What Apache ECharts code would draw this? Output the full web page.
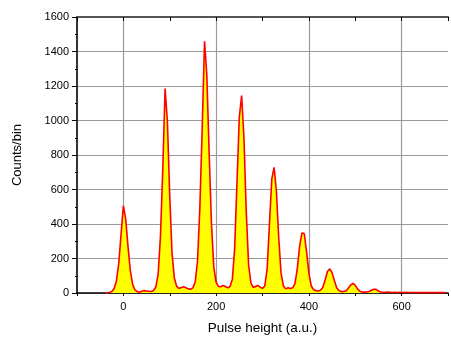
<!DOCTYPE html>
<html>
<head>
<meta charset="utf-8">
<script src="https://cdn.jsdelivr.net/npm/echarts@6/dist/echarts.min.js"></script>
<style>
  html, body { margin: 0; padding: 0; background: #fff; }
  #main { width: 451px; height: 340px; }
</style>
</head>
<body>
<div id="main"></div>
<script>
// pulse height bins (a.u.)
const pulseHeight = [
  -40, -35, -30, -25, -20, -15, -10, -5, 0, 5, 10, 15, 20, 25, 30, 35, 40, 45, 50, 55,
  60, 65, 70, 75, 80, 85, 90, 95, 100, 105, 110, 115, 120, 125, 130, 135, 140, 145, 150, 155,
  160, 165, 170, 175, 180, 185, 190, 195, 200, 205, 210, 215, 220, 225, 230, 235, 240, 245, 250, 255,
  260, 265, 270, 275, 280, 285, 290, 295, 300, 305, 310, 315, 320, 325, 330, 335, 340, 345, 350, 355,
  360, 365, 370, 375, 380, 385, 390, 395, 400, 405, 410, 415, 420, 425, 430, 435, 440, 445, 450, 455,
  460, 465, 470, 475, 480, 485, 490, 495, 500, 505, 510, 515, 520, 525, 530, 535, 540, 545, 550, 555,
  560, 565, 570, 575, 580, 585, 590, 595, 600, 605, 610, 615, 620, 625, 630, 635, 640, 645, 650, 655,
  660, 665, 670, 675, 680, 685, 690, 695
];
// counts per bin
const counts = [
  0, 1, 3, 8, 25, 70, 170, 340, 505, 430, 270, 130, 50, 18, 8, 6, 10, 14, 12, 10,
  9, 14, 35, 110, 330, 720, 1185, 990, 560, 230, 85, 38, 26, 32, 36, 30, 24, 22, 30, 65,
  190, 500, 960, 1460, 1260, 810, 400, 150, 62, 38, 36, 44, 38, 30, 38, 80, 260, 640, 1020, 1145,
  900, 470, 165, 58, 32, 38, 44, 34, 26, 42, 140, 400, 660, 728, 590, 320, 115, 42, 24, 30,
  26, 30, 55, 140, 270, 348, 345, 240, 115, 42, 20, 14, 12, 16, 32, 75, 125, 140, 118, 72,
  30, 13, 8, 9, 12, 28, 46, 56, 44, 24, 10, 6, 5, 6, 9, 16, 22, 21, 11, 6,
  4, 4, 5, 4, 3, 4, 3, 4, 3, 3, 4, 3, 3, 2, 3, 3, 2, 3, 2, 2,
  3, 2, 2, 2, 2, 2, 2, 2
];
const xLabels = [0, 200, 400, 600];

const myChart = echarts.init(document.getElementById('main'));
const font = 'Liberation Sans, Arial, sans-serif';
const seriesData = pulseHeight.map((x, i) => [x, counts[i]]);

const option = {
  animation: false,
  grid: { left: 77, top: 17, width: 381, height: 281 },
  xAxis: [
    {
      type: 'value',
      position: 'bottom',
      min: -100,
      max: 700,
      interval: 100,
      name: 'Pulse height (a.u.)',
      nameLocation: 'middle',
      nameGap: 28,
      nameTextStyle: { color: '#000', fontSize: 13.5, fontFamily: font },
      axisLine: { onZero: false, lineStyle: { color: '#000', width: 1.5 } },
      axisTick: { inside: false, length: 3, lineStyle: { color: '#000' } },
      axisLabel: {
        color: '#000',
        fontSize: 11,
        fontFamily: font,
        margin: 8,
        formatter: (v) => (xLabels.indexOf(v) >= 0 ? String(v) : '')
      },
      splitLine: {
        show: true,
        lineStyle: { color: ['rgba(0,0,0,0)', '#999'], width: 1.2 }
      }
    },
    {
      type: 'value',
      position: 'top',
      min: -100,
      max: 700,
      interval: 100,
      axisLine: { onZero: false, lineStyle: { color: '#555', width: 2 } },
      axisTick: { inside: true, length: 4, lineStyle: { color: '#000' } },
      axisLabel: { show: false },
      splitLine: { show: false }
    }
  ],
  yAxis: {
    type: 'value',
    min: 0,
    max: 1600,
    interval: 200,
    name: 'Counts/bin',
    nameLocation: 'middle',
    nameGap: 53,
    nameTextStyle: { color: '#000', fontSize: 13, fontFamily: font },
    axisLine: { show: true, onZero: false, lineStyle: { color: '#333', width: 2 } },
    axisTick: { show: true, inside: false, length: 5, lineStyle: { color: '#000' } },
    minorTick: { show: true, splitNumber: 2, length: 2, lineStyle: { color: '#000' } },
    axisLabel: { color: '#000', fontSize: 11, fontFamily: font, margin: 8, formatter: (v) => String(v) },
    splitLine: { show: true, lineStyle: { color: '#999', width: 1.2 } }
  },
  series: [
    {
      type: 'line',
      data: seriesData,
      showSymbol: false,
      smooth: false,
      lineStyle: { color: '#ff0000', width: 1.6 },
      areaStyle: { color: '#ffff00', opacity: 1 },
      z: 3
    }
  ]
};
option && myChart.setOption(option);
</script>
</body>
</html>
